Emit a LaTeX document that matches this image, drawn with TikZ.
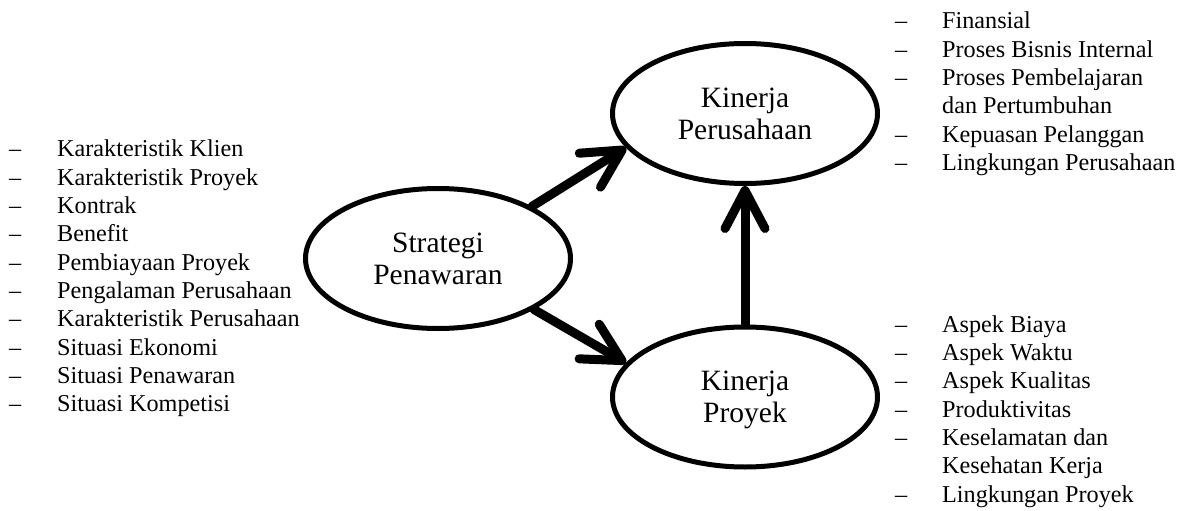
\documentclass[tikz,border=0pt]{standalone}
\usepackage{fontspec}
\setmainfont{Liberation Serif}
\usetikzlibrary{shapes.geometric,arrows.meta}
\begin{document}
\begin{tikzpicture}[x=1pt,y=-1pt,
  ell/.style={ellipse, draw, line width=5pt, minimum width=265pt, minimum height=140pt,
    inner sep=0pt, align=center, font=\fontsize{29.5}{32}\selectfont, text depth=0pt},
  arr/.style={line width=9pt, line cap=round, -{Straight Barb[length=38pt, width=40pt, round]}},
  itm/.style={anchor=base west, inner sep=0pt, font=\fontsize{24.2}{28}\selectfont}]
\useasboundingbox (0,0) rectangle (1187,511);

\node[ell] (sp) at (438,258.5) {Strategi\\Penawaran};
\node[ell] (kp) at (745,113.5) {Kinerja\\Perusahaan};
\node[ell] (kr) at (745,397) {Kinerja\\Proyek};

\draw[arr] (sp.29) -- (kp.196);
\draw[arr] (sp.-28) -- (kr.164);
\draw[arr] (kr.north) -- (kp.south);

% left list
\foreach \t [count=\k from 0] in {Karakteristik Klien, Karakteristik Proyek, Kontrak, Benefit,
  Pembiayaan Proyek, Pengalaman Perusahaan, Karakteristik Perusahaan, Situasi Ekonomi,
  Situasi Penawaran, Situasi Kompetisi}{
  \node[itm] (l\k) at (57,{157+28.33*\k}) {\t};
  \node[itm] (ld\k) at (9,{157+28.33*\k}) {–};
}

% top right list
\foreach \t [count=\k from 0] in {Finansial, Proses Bisnis Internal, Proses Pembelajaran,
  dan Pertumbuhan, Kepuasan Pelanggan, Lingkungan Perusahaan}
  \node[itm] (a\k) at (942,{28.7+28.33*\k}) {\t};
\foreach \k in {0,1,2,4,5}
  \node[itm] (ad\k) at (895,{28.7+28.33*\k}) {–};

% bottom right list
\foreach \t [count=\k from 0] in {Aspek Biaya, Aspek Waktu, Aspek Kualitas, Produktivitas,
  Keselamatan dan, Kesehatan Kerja, Lingkungan Proyek}
  \node[itm] (b\k) at (942,{332.1+28.33*\k}) {\t};
\foreach \k in {0,1,2,3,4,6}
  \node[itm] (bd\k) at (895,{332.1+28.33*\k}) {–};
\end{tikzpicture}
\end{document}
